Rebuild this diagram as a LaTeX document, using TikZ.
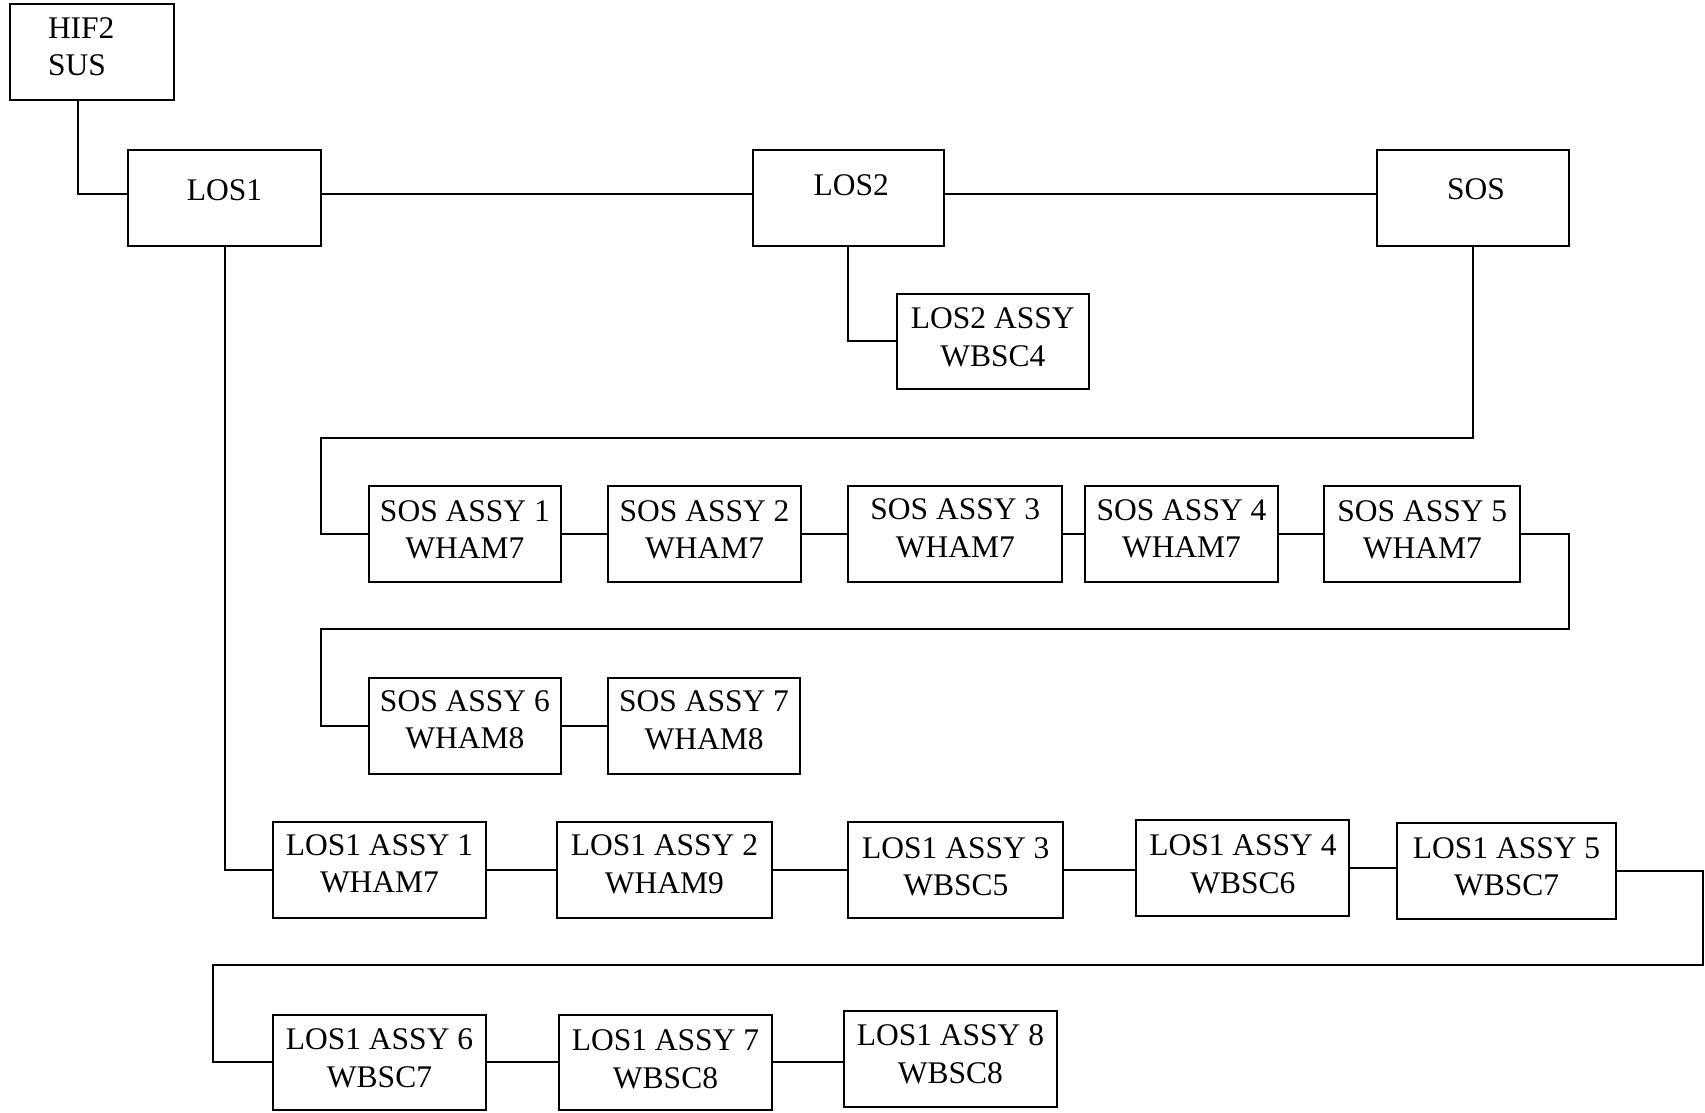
\documentclass[tikz,border=0pt]{standalone}
\usepackage{fontspec}
\setmainfont{Liberation Serif}
\newcommand{\lift}[1]{\rule[-#1]{0pt}{#1}}
\begin{document}
\begin{tikzpicture}[x=1pt,y=-1pt,
  box/.style={draw, line width=2pt, minimum height=95.7pt, inner sep=0pt, align=center,
    font=\fontsize{31.5}{37.5}\selectfont},
  wire/.style={line width=2pt}]
\useasboundingbox (0,0) rectangle (1705,1113);
% top level
\node[box, minimum width=164pt, minimum height=96pt, text width=164pt, align=left] (hif) at (92,52)
  {\hspace*{38pt}HIF2\\\hspace*{38pt}SUS\lift{11pt}};
\node[box, minimum width=192.5pt] (los1) at (224.5,198) {LOS1\lift{15pt}};
\node[box, minimum width=191.4pt] (los2) at (848.2,198) {\hspace*{6pt}LOS2\lift{26pt}};
\node[box, minimum width=192.5pt] (sos) at (1472.9,198) {\hspace*{6pt}SOS\lift{17.5pt}};
\node[box, minimum width=191.4pt] (l2a) at (992.8,341.4) {LOS2 ASSY\\WBSC4\lift{9pt}};
% SOS assemblies
\node[box, minimum width=192.5pt] (sa1) at (464.9,534) {SOS ASSY 1\\WHAM7\lift{9pt}};
\node[box, minimum width=193.5pt] (sa2) at (704.6,534) {SOS ASSY 2\\WHAM7\lift{9pt}};
\node[box, minimum width=214.2pt] (sa3) at (955.3,534) {SOS ASSY 3\\WHAM7\lift{12pt}};
\node[box, minimum width=192.5pt] (sa4) at (1181.5,534) {SOS ASSY 4\\WHAM7\lift{11pt}};
\node[box, minimum width=195.7pt] (sa5) at (1422.3,534) {SOS ASSY 5\\WHAM7\lift{9pt}};
\node[box, minimum width=192.5pt] (sa6) at (464.9,725.8) {SOS ASSY 6\\WHAM8\lift{12pt}};
\node[box, minimum width=192.5pt] (sa7) at (704.1,725.8) {SOS ASSY 7\\WHAM8\lift{11pt}};
% LOS1 assemblies
\node[box, minimum width=213.1pt] (la1) at (379.5,870) {LOS1 ASSY 1\\WHAM7\lift{13pt}};
\node[box, minimum width=215.3pt] (la2) at (664.4,870) {LOS1 ASSY 2\\WHAM9\lift{12pt}};
\node[box, minimum width=215.3pt] (la3) at (955.8,870) {LOS1 ASSY 3\\WBSC5\lift{7pt}};
\node[box, minimum width=213.1pt] (la4) at (1242.9,867.8) {LOS1 ASSY 4\\WBSC6\lift{7pt}};
\node[box, minimum width=218.6pt] (la5) at (1506.6,871) {LOS1 ASSY 5\\WBSC7\lift{9pt}};
\node[box, minimum width=213.1pt] (la6) at (379.5,1062.4) {LOS1 ASSY 6\\WBSC7\lift{9pt}};
\node[box, minimum width=213.1pt] (la7) at (665.5,1062.4) {LOS1 ASSY 7\\WBSC8\lift{7pt}};
\node[box, minimum width=213.1pt] (la8) at (950.4,1059.1) {LOS1 ASSY 8\\WBSC8\lift{10pt}};
% bend points
\coordinate (c1) at (78.3,193.6);
\coordinate (c2) at (320.8,438.2);
\coordinate (c4) at (1569.1,628.5);
\coordinate (c5) at (320.8,628.5);
\coordinate (c6) at (1702.9,964.5);
\coordinate (c7) at (213.1,964.5);
% connectors
\draw[wire] (hif.south -| c1) |- (los1.west |- c1);
\draw[wire] (los1.east |- c1) -- (los2.west |- c1);
\draw[wire] (los2.east |- c1) -- (sos.west |- c1);
\draw[wire] (los2.south) |- (l2a.west);
\draw[wire] (sos.south) |- (c2) |- (sa1.west);
\draw[wire] (sa1.east) -- (sa2.west);
\draw[wire] (sa2.east) -- (sa3.west);
\draw[wire] (sa3.east) -- (sa4.west);
\draw[wire] (sa4.east) -- (sa5.west);
\draw[wire] (sa5.east) -| (c4) -- (c5) |- (sa6.west);
\draw[wire] (sa6.east) -- (sa7.west);
\draw[wire] (los1.south) |- (la1.west);
\draw[wire] (la1.east) -- (la2.west);
\draw[wire] (la2.east) -- (la3.west);
\draw[wire] (la3.east) -- (la3.east -| la4.west);
\draw[wire] (la4.east) -- (la4.east -| la5.west);
\draw[wire] (la5.east) -| (c6) -- (c7) |- (la6.west);
\draw[wire] (la6.east) -- (la7.west);
\draw[wire] (la7.east) -- (la7.east -| la8.west);
\end{tikzpicture}
\end{document}
